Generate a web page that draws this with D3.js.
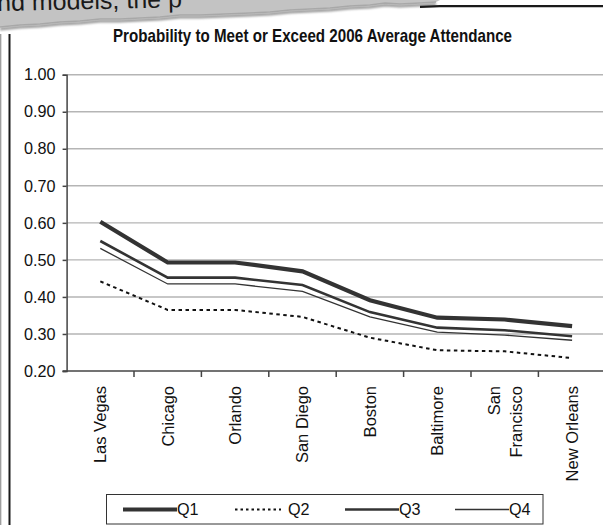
<!DOCTYPE html>
<html>
<head>
<meta charset="utf-8">
<script src="https://cdn.jsdelivr.net/npm/d3@7"></script>
<style>
  html, body { margin: 0; padding: 0; background: #fff; }
  svg { display: block; }
</style>
</head>
<body>
<svg id="chart" width="603" height="525"></svg>
<script>
// Cities along the x axis (San Francisco wraps onto two lines)
const cities = ["Las Vegas", "Chicago", "Orlando", "San Diego", "Boston", "Baltimore", "San Francisco", "New Orleans"];
const cityLines = [["Las Vegas"], ["Chicago"], ["Orlando"], ["San Diego"], ["Boston"], ["Baltimore"], ["San", "Francisco"], ["New Orleans"]];

// Probability per quarter
const q1 = [0.603, 0.493, 0.493, 0.469, 0.391, 0.344, 0.339, 0.321];
const q2 = [0.442, 0.365, 0.365, 0.346, 0.290, 0.256, 0.253, 0.235];
const q3 = [0.551, 0.452, 0.452, 0.432, 0.359, 0.317, 0.310, 0.294];
const q4 = [0.531, 0.435, 0.435, 0.415, 0.346, 0.305, 0.297, 0.283];

const seriesNames = ["Q1", "Q2", "Q3", "Q4"];
const yTicks = [0.2, 0.3, 0.4, 0.5, 0.6, 0.7, 0.8, 0.9, 1.0];
const titleText = "Probability to Meet or Exceed 2006 Average Attendance";
const pageText = "nd models, the p";

const series = [
  { name: seriesNames[0], values: q1, width: 4.2, color: "#333", dash: null },
  { name: seriesNames[1], values: q2, width: 2, color: "#111", dash: "3.5,3.5" },
  { name: seriesNames[2], values: q3, width: 2.6, color: "#333", dash: null },
  { name: seriesNames[3], values: q4, width: 1.3, color: "#333", dash: null }
];

const svg = d3.select("#chart");
const font = "'Liberation Sans', Arial, sans-serif";

// ---- torn page strip along the top ----
const strip = svg.append("g");
const tear = [[0,0],[440,0],[436,2],[420,3],[400,4],[385,3],[370,5],[350,6],[330,8],[310,9],[290,10],[270,12],[250,13],[225,14],[200,15],[180,15],[160,17],[140,18],[120,19],[100,19],[80,21],[60,22],[40,24],[20,25],[0,27]];
const defs = svg.append("defs");
defs.append("filter").attr("id", "soft").append("feGaussianBlur").attr("stdDeviation", 1.2);

// shadow under the torn edge
strip.append("path")
  .attr("d", d3.line()(tear.slice(2).map(p => [p[0], p[1] + 2])))
  .attr("fill", "none").attr("stroke", "#9a9a9a").attr("stroke-width", 3)
  .attr("filter", "url(#soft)");
strip.append("path")
  .attr("d", d3.line()(tear) + "Z")
  .attr("fill", "#c3c3c3");
strip.append("path")
  .attr("d", d3.line()(tear.slice(2)))
  .attr("fill", "none").attr("stroke", "#a8a8a8").attr("stroke-width", 1.5);
// printed text on the torn strip, running off the top edge
strip.append("text")
  .attr("x", -3).attr("y", 11)
  .attr("transform", "rotate(-1.2)")
  .attr("font-family", font).attr("font-size", 25)
  .attr("fill", "#1a1a1a")
  .text(pageText);

// top frame rule at the right
svg.append("path")
  .attr("d", "M420,6.8 L440,6.2 L603,6.2")
  .attr("stroke", "#1a1a1a").attr("stroke-width", 2.2).attr("fill", "none");

// left frame rules
svg.append("line").attr("x1", 0.7).attr("x2", 0.7).attr("y1", 34).attr("y2", 525)
  .attr("stroke", "#9a9a9a").attr("stroke-width", 1.3);
svg.append("line").attr("x1", 9.5).attr("x2", 9.5).attr("y1", 34).attr("y2", 525)
  .attr("stroke", "#1a1a1a").attr("stroke-width", 2);

// ---- chart ----
const x = d3.scaleBand().domain(cities).range([66.6, 605.8]).padding(0);
const y = d3.scaleLinear().domain([0.2, 1.0]).range([371, 74.7]);

// title
const title = svg.append("text")
  .attr("x", 312.5).attr("y", 42)
  .attr("text-anchor", "middle")
  .attr("font-family", "'Liberation Sans Narrow', 'Arial Narrow', 'Liberation Sans', Arial, sans-serif")
  .attr("font-weight", "bold").attr("font-size", 18.5)
  .attr("fill", "#111")
  .text(titleText);
title.attr("textLength", 399).attr("lengthAdjust", "spacingAndGlyphs");

// horizontal gridlines
svg.append("g").selectAll("line")
  .data(yTicks.filter(t => t > 0.2))
  .join("line")
  .attr("x1", 66.6).attr("x2", 603)
  .attr("y1", d => y(d)).attr("y2", d => y(d))
  .attr("stroke", "#b5b5b5").attr("stroke-width", 1.4);

// y axis
const yAxis = svg.append("g")
  .attr("transform", "translate(66.6,0)")
  .call(d3.axisLeft(y).tickValues(yTicks).tickFormat(d3.format(".2f")).tickSize(4).tickPadding(7));
yAxis.select(".domain").attr("stroke", "#444").attr("stroke-width", 1.5);
yAxis.selectAll(".tick line").attr("stroke", "#444").attr("stroke-width", 1.5);
yAxis.selectAll(".tick text")
  .attr("font-family", font).attr("font-size", 16.2).attr("fill", "#111");

// x axis with ticks on category boundaries
const xAxisG = svg.append("g");
xAxisG.append("line")
  .attr("x1", 62.6).attr("x2", 603).attr("y1", y(0.2)).attr("y2", y(0.2))
  .attr("stroke", "#444").attr("stroke-width", 1.5);
xAxisG.selectAll("line.tick")
  .data(cities)
  .join("line").attr("class", "tick")
  .attr("x1", d => x(d) + x.bandwidth()).attr("x2", d => x(d) + x.bandwidth())
  .attr("y1", y(0.2)).attr("y2", y(0.2) + 6)
  .attr("stroke", "#444").attr("stroke-width", 1.5);

const xl = xAxisG.selectAll("text.cat")
  .data(cities)
  .join("text").attr("class", "cat")
  .attr("transform", d => `translate(${x(d) + x.bandwidth() / 2},386) rotate(-90)`)
  .attr("text-anchor", "end")
  .attr("font-family", font).attr("font-size", 16.5).attr("fill", "#111");
xl.each(function(d, i) {
  const lines = cityLines[i];
  const n = lines.length;
  d3.select(this).selectAll("tspan")
    .data(lines)
    .join("tspan")
    .attr("x", 0)
    .attr("y", (l, j) => (j - (n - 1) / 2) * 22)
    .attr("dy", "0.36em")
    .text(l => l);
});

// series lines
const line = d3.line()
  .x((v, i) => x(cities[i]) + x.bandwidth() / 2)
  .y(v => y(v));

const order = [3, 1, 2, 0];
svg.append("g").selectAll("path")
  .data(order.map(i => series[i]))
  .join("path")
  .attr("d", s => line(s.values))
  .attr("fill", "none")
  .attr("stroke", s => s.color)
  .attr("stroke-width", s => s.width)
  .attr("stroke-dasharray", s => s.dash)
  .attr("stroke-linejoin", "miter");

// legend
const lg = svg.append("g");
lg.append("rect")
  .attr("x", 106.5).attr("y", 494.5).attr("width", 436.5).attr("height", 29.5)
  .attr("fill", "#fff").attr("stroke", "#333").attr("stroke-width", 1);
const legendX = [123, 235, 345, 455];
const item = lg.selectAll("g.item")
  .data(series)
  .join("g").attr("class", "item")
  .attr("transform", (s, i) => `translate(${legendX[i]},509.5)`);
item.append("line")
  .attr("x1", 0).attr("x2", (s, i) => i === 1 ? 46 : 54)
  .attr("y1", 0).attr("y2", 0)
  .attr("stroke", s => s.color)
  .attr("stroke-width", s => s.width)
  .attr("stroke-dasharray", s => s.dash ? "2.5,3" : null);
item.append("text")
  .attr("x", (s, i) => i === 1 ? 53 : 54)
  .attr("dy", "0.36em")
  .attr("font-family", font).attr("font-size", 16.2).attr("fill", "#111")
  .text(s => s.name);
</script>
</body>
</html>
